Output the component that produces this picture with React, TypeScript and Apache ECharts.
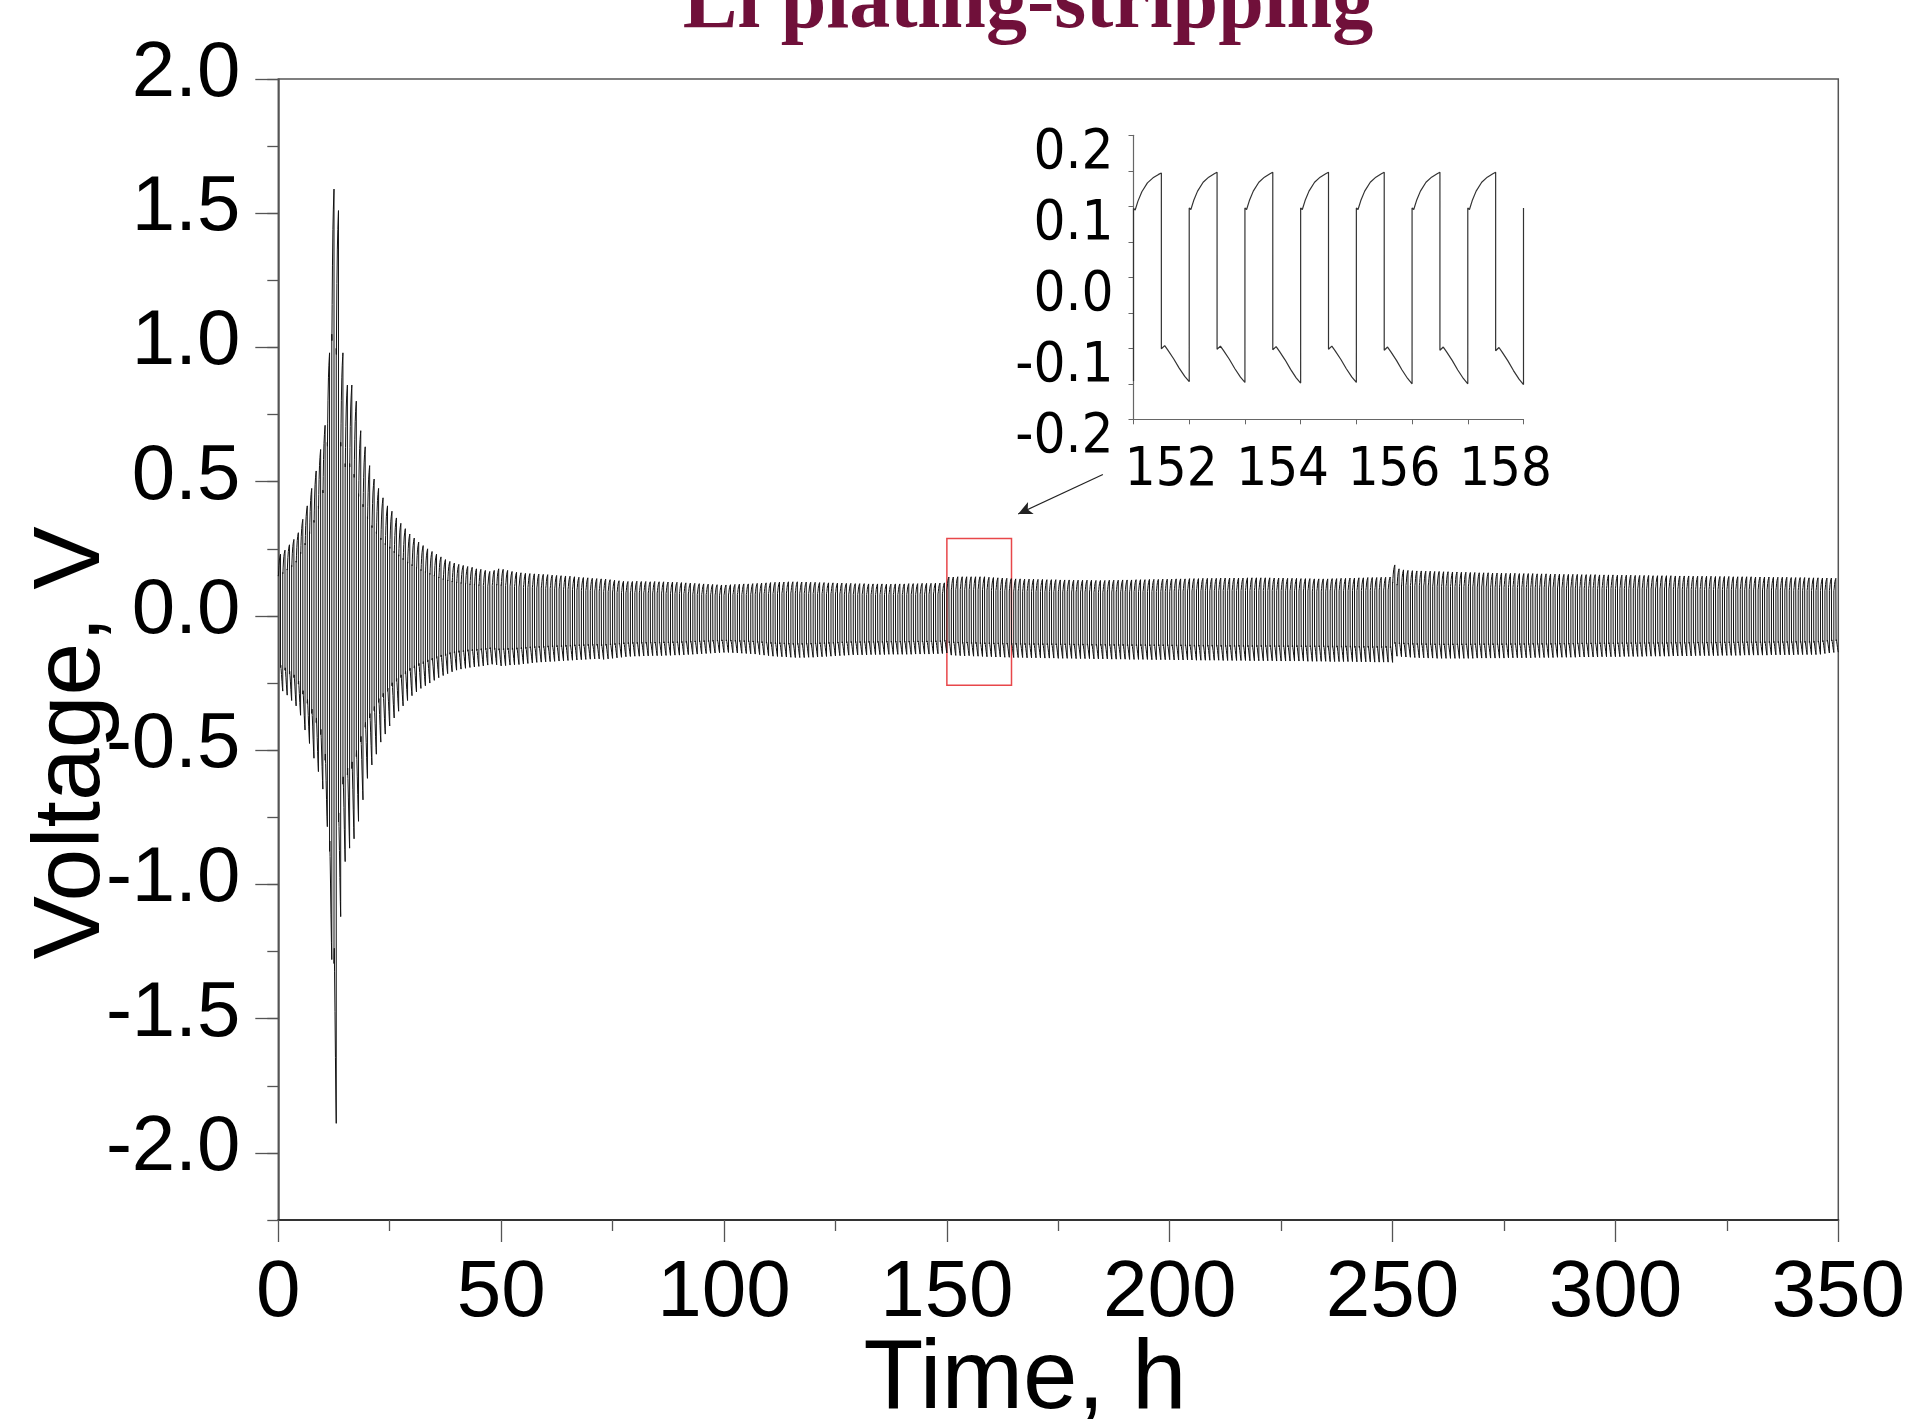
import React, { useEffect, useRef } from "react";
import * as echarts from "echarts";

// ---------- texts ----------
const TITLE = "Li plating-stripping";
const X_NAME = "Time, h";
const Y_NAME = "Voltage, V";

// ---------- axes ----------
const X_MIN = 0;
const X_MAX = 350;
const X_STEP = 50;
const Y_MIN = -2.25;
const Y_MAX = 2;
const Y_MINOR_STEP = 0.25;
const Y_MAJOR_TICKS = [-2, -1.5, -1, -0.5, 0, 0.5, 1, 1.5, 2];

const INSET_X_MIN = 151;
const INSET_X_MAX = 158;
const INSET_X_LABELS = [152, 154, 156, 158];
const INSET_Y_MIN = -0.2;
const INSET_Y_MAX = 0.2;
const INSET_Y_STEP = 0.05;
const INSET_Y_LABELS = [-0.2, -0.1, 0, 0.1, 0.2];

// zoom box (data coords) and arrow
const ZOOM_BOX = { x0: 150, x1: 164.5, yTop: 0.288, yBottom: -0.258 };
const ARROW_FROM = [185, 0.527];
const ARROW_TO = [166, 0.38];

// ---------- one cycle's shape (1 h period) ----------
const PERIOD_H = 1;
const UP_OFFSETS = [0, 0.03, 0.08, 0.15, 0.25, 0.35, 0.45, 0.5];
const UP_FRACS = [0.66, 0.645, 0.73, 0.82, 0.905, 0.953, 0.986, 1];
const DOWN_OFFSETS = [0.5, 0.56, 0.62, 0.72, 0.82, 0.92, 1.0];
const DOWN_FRACS = [0.685, 0.655, 0.7, 0.78, 0.87, 0.95, 1];

// ---------- per-cycle peak (plating) voltages, cycles 0..349 ----------
const UPPER = [
  0.23, 0.245, 0.265, 0.285, 0.31, 0.36, 0.41, 0.475, 0.54, 0.62,
  0.71, 0.98, 1.59, 1.51, 0.98, 0.86, 0.86, 0.8, 0.69, 0.63,
  0.56, 0.51, 0.475, 0.44, 0.41, 0.39, 0.365, 0.345, 0.325, 0.305,
  0.29, 0.275, 0.262, 0.25, 0.24, 0.23, 0.22, 0.21, 0.203, 0.197,
  0.192, 0.188, 0.184, 0.181, 0.178, 0.176, 0.172, 0.168, 0.172, 0.178,
  0.176, 0.172, 0.168, 0.165, 0.163, 0.161, 0.16, 0.159, 0.158, 0.157,
  0.156, 0.154, 0.153, 0.152, 0.151, 0.15, 0.148, 0.146, 0.145, 0.144,
  0.142, 0.141, 0.14, 0.139, 0.137, 0.135, 0.133, 0.131, 0.13, 0.13,
  0.131, 0.13, 0.13, 0.129, 0.13, 0.129, 0.129, 0.128, 0.128, 0.127,
  0.126, 0.125, 0.124, 0.123, 0.122, 0.121, 0.12, 0.119, 0.118, 0.117,
  0.117, 0.118, 0.119, 0.12, 0.121, 0.121, 0.122, 0.123, 0.124, 0.125,
  0.126, 0.127, 0.128, 0.128, 0.129, 0.129, 0.129, 0.128, 0.128, 0.127,
  0.127, 0.126, 0.126, 0.125, 0.125, 0.124, 0.124, 0.123, 0.123, 0.122,
  0.122, 0.122, 0.121, 0.121, 0.121, 0.121, 0.12, 0.12, 0.121, 0.121,
  0.121, 0.122, 0.122, 0.122, 0.123, 0.123, 0.123, 0.124, 0.124, 0.125,
  0.147, 0.147, 0.148, 0.148, 0.148, 0.148, 0.148, 0.148, 0.148, 0.146,
  0.145, 0.144, 0.143, 0.142, 0.141, 0.14, 0.14, 0.139, 0.139, 0.139,
  0.138, 0.138, 0.137, 0.137, 0.137, 0.136, 0.136, 0.136, 0.135, 0.135,
  0.135, 0.135, 0.135, 0.134, 0.134, 0.134, 0.135, 0.135, 0.135, 0.136,
  0.136, 0.136, 0.137, 0.137, 0.137, 0.138, 0.138, 0.138, 0.139, 0.139,
  0.139, 0.14, 0.14, 0.14, 0.141, 0.141, 0.141, 0.142, 0.142, 0.142,
  0.142, 0.143, 0.143, 0.143, 0.143, 0.143, 0.143, 0.144, 0.144, 0.144,
  0.144, 0.144, 0.144, 0.143, 0.143, 0.143, 0.142, 0.142, 0.142, 0.141,
  0.141, 0.141, 0.14, 0.14, 0.14, 0.14, 0.141, 0.141, 0.142, 0.142,
  0.143, 0.143, 0.144, 0.144, 0.145, 0.145, 0.145, 0.146, 0.146, 0.147,
  0.19, 0.178, 0.174, 0.172, 0.171, 0.17, 0.17, 0.169, 0.169, 0.168,
  0.168, 0.167, 0.167, 0.166, 0.166, 0.165, 0.165, 0.164, 0.164, 0.163,
  0.163, 0.163, 0.162, 0.162, 0.162, 0.161, 0.161, 0.161, 0.16, 0.16,
  0.16, 0.16, 0.159, 0.159, 0.159, 0.158, 0.158, 0.158, 0.157, 0.157,
  0.157, 0.157, 0.156, 0.156, 0.156, 0.156, 0.155, 0.155, 0.155, 0.155,
  0.154, 0.154, 0.154, 0.154, 0.153, 0.153, 0.153, 0.153, 0.152, 0.152,
  0.152, 0.152, 0.152, 0.151, 0.151, 0.151, 0.151, 0.15, 0.15, 0.15,
  0.15, 0.15, 0.149, 0.149, 0.149, 0.149, 0.148, 0.148, 0.148, 0.148,
  0.148, 0.147, 0.147, 0.147, 0.147, 0.146, 0.146, 0.146, 0.146, 0.145,
  0.145, 0.145, 0.145, 0.144, 0.144, 0.144, 0.143, 0.143, 0.143, 0.142,
];

// ---------- per-cycle trough (stripping) voltages, cycles 0..349 ----------
const LOWER = [
  -0.28, -0.295, -0.315, -0.335, -0.37, -0.425, -0.475, -0.53, -0.58, -0.645,
  -0.785, -1.28, -1.89, -1.12, -0.915, -0.865, -0.83, -0.765, -0.685, -0.605,
  -0.555, -0.515, -0.47, -0.44, -0.41, -0.38, -0.355, -0.335, -0.315, -0.297,
  -0.283, -0.27, -0.26, -0.25, -0.24, -0.23, -0.222, -0.215, -0.208, -0.202,
  -0.198, -0.195, -0.192, -0.19, -0.188, -0.186, -0.183, -0.18, -0.182, -0.186,
  -0.185, -0.183, -0.182, -0.181, -0.179, -0.177, -0.175, -0.173, -0.172, -0.171,
  -0.17, -0.169, -0.168, -0.167, -0.166, -0.165, -0.164, -0.163, -0.162, -0.161,
  -0.16, -0.16, -0.162, -0.16, -0.158, -0.156, -0.154, -0.152, -0.151, -0.15,
  -0.15, -0.149, -0.149, -0.148, -0.148, -0.148, -0.147, -0.147, -0.146, -0.146,
  -0.145, -0.144, -0.143, -0.142, -0.141, -0.14, -0.139, -0.138, -0.137, -0.136,
  -0.136, -0.137, -0.138, -0.139, -0.14, -0.141, -0.142, -0.144, -0.146, -0.148,
  -0.15, -0.151, -0.152, -0.153, -0.154, -0.155, -0.155, -0.155, -0.154, -0.154,
  -0.153, -0.152, -0.151, -0.15, -0.149, -0.148, -0.147, -0.146, -0.145, -0.145,
  -0.145, -0.145, -0.144, -0.144, -0.144, -0.144, -0.143, -0.143, -0.143, -0.143,
  -0.143, -0.143, -0.142, -0.142, -0.142, -0.142, -0.141, -0.141, -0.14, -0.138,
  -0.146, -0.147, -0.148, -0.149, -0.148, -0.15, -0.15, -0.151, -0.152, -0.152,
  -0.153, -0.153, -0.154, -0.154, -0.155, -0.155, -0.155, -0.156, -0.156, -0.156,
  -0.156, -0.157, -0.157, -0.157, -0.158, -0.158, -0.158, -0.158, -0.159, -0.159,
  -0.159, -0.159, -0.16, -0.16, -0.16, -0.16, -0.161, -0.161, -0.161, -0.161,
  -0.162, -0.162, -0.162, -0.162, -0.162, -0.163, -0.163, -0.163, -0.163, -0.163,
  -0.164, -0.164, -0.164, -0.164, -0.164, -0.165, -0.165, -0.165, -0.165, -0.165,
  -0.165, -0.166, -0.166, -0.166, -0.166, -0.166, -0.166, -0.167, -0.167, -0.167,
  -0.167, -0.167, -0.167, -0.168, -0.168, -0.168, -0.168, -0.168, -0.168, -0.168,
  -0.169, -0.169, -0.169, -0.169, -0.169, -0.17, -0.17, -0.17, -0.17, -0.17,
  -0.17, -0.171, -0.171, -0.171, -0.171, -0.172, -0.172, -0.172, -0.172, -0.173,
  -0.15, -0.152, -0.153, -0.154, -0.155, -0.156, -0.156, -0.157, -0.157, -0.158,
  -0.158, -0.158, -0.158, -0.158, -0.158, -0.158, -0.158, -0.158, -0.157, -0.157,
  -0.157, -0.157, -0.157, -0.157, -0.157, -0.156, -0.156, -0.156, -0.156, -0.156,
  -0.156, -0.155, -0.155, -0.155, -0.155, -0.155, -0.154, -0.154, -0.154, -0.154,
  -0.154, -0.153, -0.153, -0.153, -0.153, -0.153, -0.152, -0.152, -0.152, -0.152,
  -0.152, -0.151, -0.151, -0.151, -0.151, -0.151, -0.15, -0.15, -0.15, -0.15,
  -0.15, -0.15, -0.149, -0.149, -0.149, -0.149, -0.149, -0.148, -0.148, -0.148,
  -0.148, -0.148, -0.148, -0.147, -0.147, -0.147, -0.147, -0.147, -0.146, -0.146,
  -0.146, -0.146, -0.146, -0.146, -0.145, -0.145, -0.145, -0.145, -0.145, -0.145,
  -0.144, -0.144, -0.144, -0.144, -0.144, -0.143, -0.14, -0.138, -0.136, -0.135,
];

function buildTrace(upper: number[], lower: number[]): number[][] {
  const pts: number[][] = [];
  const n = Math.min(upper.length, lower.length);
  for (let i = 0; i < n; i++) {
    const t0 = X_MIN + i * PERIOD_H;
    for (let k = 0; k < UP_OFFSETS.length; k++) {
      pts.push([t0 + UP_OFFSETS[k] * PERIOD_H, upper[i] * UP_FRACS[k]]);
    }
    for (let k = 0; k < DOWN_OFFSETS.length; k++) {
      pts.push([t0 + DOWN_OFFSETS[k] * PERIOD_H, lower[i] * DOWN_FRACS[k]]);
    }
  }
  return pts;
}

const LABEL_FONT = '"Liberation Sans", Arial, sans-serif';
const NARROW_FONT = '"DejaVu Sans Condensed", "Liberation Sans", sans-serif';

export default function App() {
  const ref = useRef<HTMLDivElement>(null);

  useEffect(() => {
    if (!ref.current) return;
    const chart = echarts.init(ref.current, undefined, { renderer: "svg" });
    const trace = buildTrace(UPPER, LOWER);
    const insetTrace = trace.filter((p) => p[0] >= INSET_X_MIN && p[0] <= INSET_X_MAX);

    const option: any = {
      animation: false,
      backgroundColor: "#ffffff",
      grid: [
        {
          left: 278.3,
          top: 79,
          width: 1560,
          height: 1141,
          show: true,
          borderColor: "#555",
          borderWidth: 1.5,
          backgroundColor: "transparent",
          containLabel: false,
          outerBoundsMode: "none",
        },
        {
          left: 1133.5,
          top: 135.3,
          width: 390,
          height: 284,
          show: false,
          containLabel: false,
          outerBoundsMode: "none",
        },
      ],
      xAxis: [
        {
          type: "value",
          gridIndex: 0,
          position: "bottom",
          min: X_MIN,
          max: X_MAX,
          interval: X_STEP,
          axisLine: { show: true, onZero: false, lineStyle: { color: "#333", width: 2 } },
          axisTick: { show: true, inside: false, length: 22, lineStyle: { color: "#555", width: 1.3 } },
          minorTick: { show: true, splitNumber: 2, length: 11, lineStyle: { color: "#555", width: 1.3 } },
          axisLabel: { color: "#000", fontSize: 80, fontFamily: LABEL_FONT, margin: 28 },
          splitLine: { show: false },
        },
        {
          type: "value",
          gridIndex: 1,
          position: "bottom",
          min: INSET_X_MIN,
          max: INSET_X_MAX,
          interval: 1,
          axisLine: { show: true, onZero: false, lineStyle: { color: "#666", width: 1.2 } },
          axisTick: { show: true, inside: false, length: 5, lineStyle: { color: "#666", width: 1 } },
          axisLabel: {
            customValues: INSET_X_LABELS,
            formatter: (v: number) => String(v),
            color: "#000",
            fontSize: 54,
            fontFamily: NARROW_FONT,
            margin: 20,
            padding: [0, 36, 0, 0],
          },
          splitLine: { show: false },
        },
      ],
      yAxis: [
        {
          type: "value",
          gridIndex: 0,
          position: "left",
          offset: 0,
          min: Y_MIN,
          max: Y_MAX,
          interval: Y_MINOR_STEP,
          axisLine: { show: true, onZero: false, lineStyle: { color: "#555", width: 1.5 } },
          axisTick: { show: true, inside: false, length: 11, lineStyle: { color: "#555", width: 1.3 } },
          axisLabel: { show: false },
          splitLine: { show: false },
        },
        {
          type: "value",
          gridIndex: 0,
          position: "left",
          offset: 0,
          min: Y_MIN,
          max: Y_MAX,
          interval: Y_MINOR_STEP,
          axisLine: { show: false, onZero: false },
          axisTick: {
            show: true,
            inside: false,
            length: 23,
            customValues: Y_MAJOR_TICKS,
            lineStyle: { color: "#555", width: 1.3 },
          },
          axisLabel: {
            customValues: Y_MAJOR_TICKS,
            formatter: (v: number) => v.toFixed(1),
            color: "#000",
            fontSize: 78,
            fontFamily: LABEL_FONT,
            margin: 38,
            verticalAlign: "bottom",
            lineHeight: 20,
          },
          splitLine: { show: false },
        },
        {
          type: "value",
          gridIndex: 1,
          position: "left",
          min: INSET_Y_MIN,
          max: INSET_Y_MAX,
          interval: INSET_Y_STEP,
          axisLine: { show: true, onZero: false, lineStyle: { color: "#666", width: 1.2 } },
          axisTick: { show: true, inside: false, length: 5, lineStyle: { color: "#666", width: 1 } },
          axisLabel: {
            customValues: INSET_Y_LABELS,
            formatter: (v: number) => v.toFixed(1),
            color: "#000",
            fontSize: 56,
            fontFamily: NARROW_FONT,
            margin: 20,
            verticalAlign: "top",
            lineHeight: 26,
          },
          splitLine: { show: false },
        },
      ],
      series: [
        {
          type: "line",
          xAxisIndex: 0,
          yAxisIndex: 0,
          data: trace,
          showSymbol: false,
          symbol: "none",
          silent: true,
          lineStyle: { color: "#111", width: 1 },
          markArea: {
            silent: true,
            label: { show: false },
            itemStyle: { color: "rgba(0,0,0,0)", borderColor: "#e8474a", borderWidth: 1.5 },
            data: [
              [
                { xAxis: ZOOM_BOX.x0, yAxis: ZOOM_BOX.yTop },
                { xAxis: ZOOM_BOX.x1, yAxis: ZOOM_BOX.yBottom },
              ],
            ],
          },
          markLine: {
            silent: true,
            symbol: ["none", "arrow"],
            symbolSize: [10, 14],
            label: { show: false },
            lineStyle: { color: "#222", width: 1.2, type: "solid" },
            data: [[{ coord: ARROW_FROM }, { coord: ARROW_TO }]],
          },
        },
        {
          type: "line",
          xAxisIndex: 1,
          yAxisIndex: 2,
          data: insetTrace,
          showSymbol: false,
          symbol: "none",
          silent: true,
          lineStyle: { color: "#333", width: 1.2 },
        },
      ],
      graphic: [
        {
          type: "text",
          x: 1028,
          y: -1,
          silent: true,
          style: {
            text: TITLE,
            fill: "#70103a",
            fontSize: 82,
            fontWeight: "bold",
            fontFamily: '"Liberation Serif", "Times New Roman", serif',
            textAlign: "center",
            textVerticalAlign: "middle",
          },
        },
        {
          type: "text",
          x: 1025,
          y: 1374,
          silent: true,
          style: {
            text: X_NAME,
            fill: "#000",
            fontSize: 98,
            fontFamily: LABEL_FONT,
            textAlign: "center",
            textVerticalAlign: "middle",
          },
        },
        {
          type: "text",
          x: 66,
          y: 743,
          rotation: Math.PI / 2,
          silent: true,
          style: {
            text: Y_NAME,
            fill: "#000",
            fontSize: 95,
            fontFamily: LABEL_FONT,
            textAlign: "center",
            textVerticalAlign: "middle",
          },
        },
      ],
    };

    chart.setOption(option);
    return () => chart.dispose();
  }, []);

  return (
    <div
      ref={ref}
      style={{ position: "absolute", left: 0, top: 0, width: 1911, height: 1419 }}
    />
  );
}
